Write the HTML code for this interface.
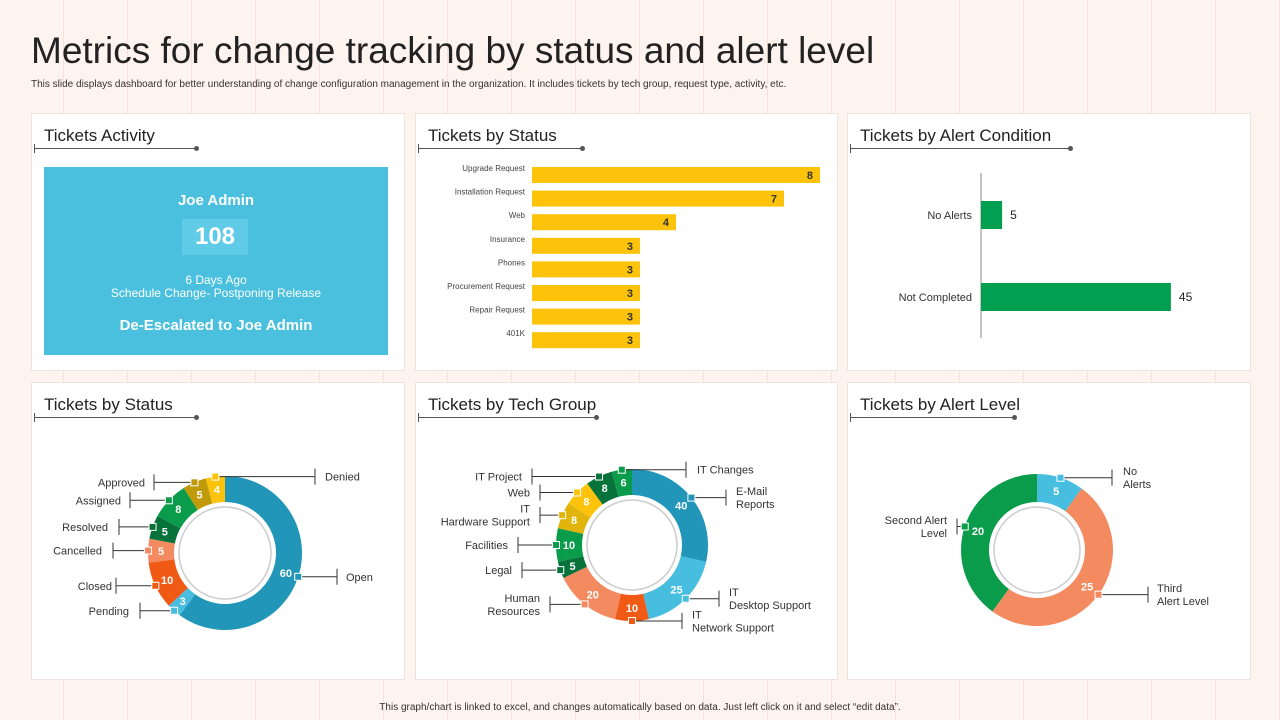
<!DOCTYPE html>
<html><head><meta charset="utf-8"><style>
body{margin:0;width:1280px;height:720px;overflow:hidden;font-family:"Liberation Sans",sans-serif;background:#fdf3ef;position:relative;
background-image:repeating-linear-gradient(90deg,transparent 0,transparent 63px,#f6e2da 63px,#f6e2da 64px);}
.card{position:absolute;background:#fff;border:1px solid #f0e2dc;}
.ct{position:absolute;left:12px;top:12px;font-size:17px;color:#222;}
.ul{position:absolute;left:2px;top:34px;height:1px;background:#555;}
.ul:before{content:"";position:absolute;left:0;top:-4px;width:1px;height:9px;background:#555;}
.ul:after{content:"";position:absolute;right:-3px;top:-2px;width:5px;height:5px;border-radius:50%;background:#555;}
svg{position:absolute;left:0;top:0;}
</style></head><body>
<div style="position:absolute;left:31px;top:30px;font-size:37px;color:#222;">Metrics for change tracking by status and alert level</div>
<div style="position:absolute;left:31px;top:79px;font-size:10px;color:#333;">This slide displays dashboard for better understanding of change configuration management in the organization. It includes tickets by tech group, request type, activity, etc.</div>

<div class="card" style="left:31px;top:113px;width:372px;height:256px;">
<div class="ct">Tickets Activity</div><div class="ul" style="width:162px"></div>
<div style="position:absolute;left:12px;top:53px;width:344px;height:188px;background:#4ac0de;color:#fff;text-align:center;">
<div style="position:absolute;top:25px;width:100%;font-size:15px;font-weight:bold;">Joe Admin</div>
<div style="position:absolute;left:138px;top:52px;width:66px;height:36px;background:#5fcbe6;font-size:24px;font-weight:bold;line-height:36px;">108</div>
<div style="position:absolute;top:106px;width:100%;font-size:12px;">6 Days Ago</div>
<div style="position:absolute;top:119px;width:100%;font-size:12px;">Schedule Change- Postponing Release</div>
<div style="position:absolute;top:150px;width:100%;font-size:15px;font-weight:bold;">De-Escalated to Joe Admin</div>
</div></div>

<div class="card" style="left:415px;top:113px;width:421px;height:256px;">
<div class="ct">Tickets by Status</div><div class="ul" style="width:164px"></div></div>
<div class="card" style="left:847px;top:113px;width:402px;height:256px;">
<div class="ct">Tickets by Alert Condition</div><div class="ul" style="width:220px"></div></div>
<div class="card" style="left:31px;top:382px;width:372px;height:296px;">
<div class="ct">Tickets by Status</div><div class="ul" style="width:162px"></div></div>
<div class="card" style="left:415px;top:382px;width:421px;height:296px;">
<div class="ct">Tickets by Tech Group</div><div class="ul" style="width:178px"></div></div>
<div class="card" style="left:847px;top:382px;width:402px;height:296px;">
<div class="ct">Tickets by Alert Level</div><div class="ul" style="width:164px"></div></div>

<div style="position:absolute;left:0;width:1280px;top:702px;text-align:center;font-size:10px;color:#333;">This graph/chart is linked to excel, and changes automatically based on data. Just left click on it and select “edit data”.</div>

<svg id="ch" width="1280" height="720"></svg>
<script>
const statusCats=["Upgrade Request","Installation Request","Web","Insurance","Phones","Procurement Request","Repair Request","401K"];
const statusVals=[8,7,4,3,3,3,3,3];
const alertCats=["No Alerts","Not Completed"];
const alertVals=[5,45];
const d1Labels=["Open","Pending","Closed","Cancelled","Resolved","Assigned","Approved","Denied"];
const d1Vals=[60,3,10,5,5,8,5,4];
const d1Colors=["#2196b9","#47bde0","#f05a14","#f48a60","#07723a","#0a9c4a","#c09a08","#fcc30a"];
const d2Labels=["E-Mail Reports","IT Desktop Support","IT Network Support","Human Resources","Legal","Facilities","IT Hardware Support","Web","IT Project","IT Changes"];
const d2Vals=[40,25,10,20,5,10,8,8,8,6];
const d2Colors=["#2196b9","#47bde0","#f05a14","#f48a60","#07723a","#0a9c4a","#e0b40a","#fcc30a","#07723a","#0a9c4a"];
const d3Labels=["No Alerts","Third Alert Level","Second Alert Level"];
const d3Vals=[5,25,20];
const d3Colors=["#47bde0","#f48a60","#0a9c4a"];

const S=document.getElementById('ch'),NS="http://www.w3.org/2000/svg";
function mk(t,a,p){const e=document.createElementNS(NS,t);for(const k in a)e.setAttribute(k,a[k]);(p||S).appendChild(e);return e;}
function txt(x,y,s,a){const e=mk('text',Object.assign({x:x,y:y,'font-family':'Liberation Sans, sans-serif'},a));e.textContent=s;return e;}

// bar chart 1
const bx=d=>532+d*36, by=i=>167+i*23.6;
statusCats.forEach((c,i)=>{
 const l=txt(525,by(i)+4,c,{'font-size':8,fill:'#444','text-anchor':'end'});
 
 
 const r=mk('rect',{x:532,y:by(i),width:bx(statusVals[i])-532,height:16,fill:'#fcc30a'});
 
 
 txt(bx(statusVals[i])-7,by(i)+12,String(statusVals[i]),{'font-size':11,'font-weight':'bold',fill:'#333','text-anchor':'end'});
});
// alert condition
mk('line',{x1:981,y1:173,x2:981,y2:338,stroke:'#888'});
const ax=d=>981+d*4.22, ay=i=>201+i*82;
alertCats.forEach((c,i)=>{
 txt(972,ay(i)+18,c,{'font-size':11,fill:'#333','text-anchor':'end'});
 const r=mk('rect',{x:981,y:ay(i),width:ax(alertVals[i])-981,height:28,fill:'#00a050'});
 
 
 txt(ax(alertVals[i])+8,ay(i)+18,String(alertVals[i]),{'font-size':12,fill:'#222'});
});

function donut(cx,cy,R,r,vals,cols,labels,name,labelPos){
 const tot=vals.reduce((a,b)=>a+b,0);let a0=-Math.PI/2;
 mk('circle',{cx:cx,cy:cy,r:r-5,fill:'none',stroke:'#ccc','stroke-width':1.5});
 vals.forEach((v,i)=>{
  const a1=a0+v/tot*2*Math.PI,lg=(a1-a0)>Math.PI?1:0;
  const p=(rr,a)=>[cx+rr*Math.cos(a),cy+rr*Math.sin(a)];
  const [x0,y0]=p(R,a0),[x1,y1]=p(R,a1),[x2,y2]=p(r,a1),[x3,y3]=p(r,a0);
  const s=mk('path',{d:`M${x0},${y0}A${R},${R} 0 ${lg} 1 ${x1},${y1}L${x2},${y2}A${r},${r} 0 ${lg} 0 ${x3},${y3}Z`,fill:cols[i]});
  
  
  const am=(a0+a1)/2,[tx,ty]=p((R+r)/2,am);
  txt(tx,ty+4,String(v),{'font-size':11,'font-weight':'bold',fill:'#fff','text-anchor':'middle'});
  const [mx,my]=p(R,am);
  const L=labelPos[i];
  mk('polyline',{points:`${mx},${my} ${L[0]},${my}`,fill:'none',stroke:'#333'});
  mk('line',{x1:L[0],y1:my-8,x2:L[0],y2:my+8,stroke:'#333'});
  mk('rect',{x:mx-3.5,y:my-3.5,width:7,height:7,fill:cols[i],stroke:'#fff'});
  const lines=L[2].split('|');
  lines.forEach((ln,k)=>txt(L[1],my+4+(k-(lines.length-1)/2)*13,ln,{'font-size':11,fill:'#333','text-anchor':L[3]||'start'}));
  a0=a1;
 });
}
donut(225,553,77,51,d1Vals,d1Colors,d1Labels,'status-donut',
 [[337,346,'Open'],[140,129,'Pending','end'],[116,112,'Closed','end'],[113,102,'Cancelled','end'],[119,108,'Resolved','end'],[130,121,'Assigned','end'],[154,145,'Approved','end'],[315,325,'Denied']]);
donut(632,545,76,50,d2Vals,d2Colors,d2Labels,'tech-group-donut',
 [[726,736,'E-Mail|Reports'],[719,729,'IT|Desktop Support'],[682,692,'IT|Network Support'],[550,540,'Human|Resources','end'],[522,512,'Legal','end'],[518,508,'Facilities','end'],[540,530,'IT|Hardware Support','end'],[540,530,'Web','end'],[532,522,'IT Project','end'],[686,697,'IT Changes']]);
donut(1037,550,76,48,d3Vals,d3Colors,d3Labels,'alert-level-donut',
 [[1112,1123,'No|Alerts'],[1148,1157,'Third|Alert Level'],[957,947,'Second Alert|Level','end']]);
</script>
</body></html>
